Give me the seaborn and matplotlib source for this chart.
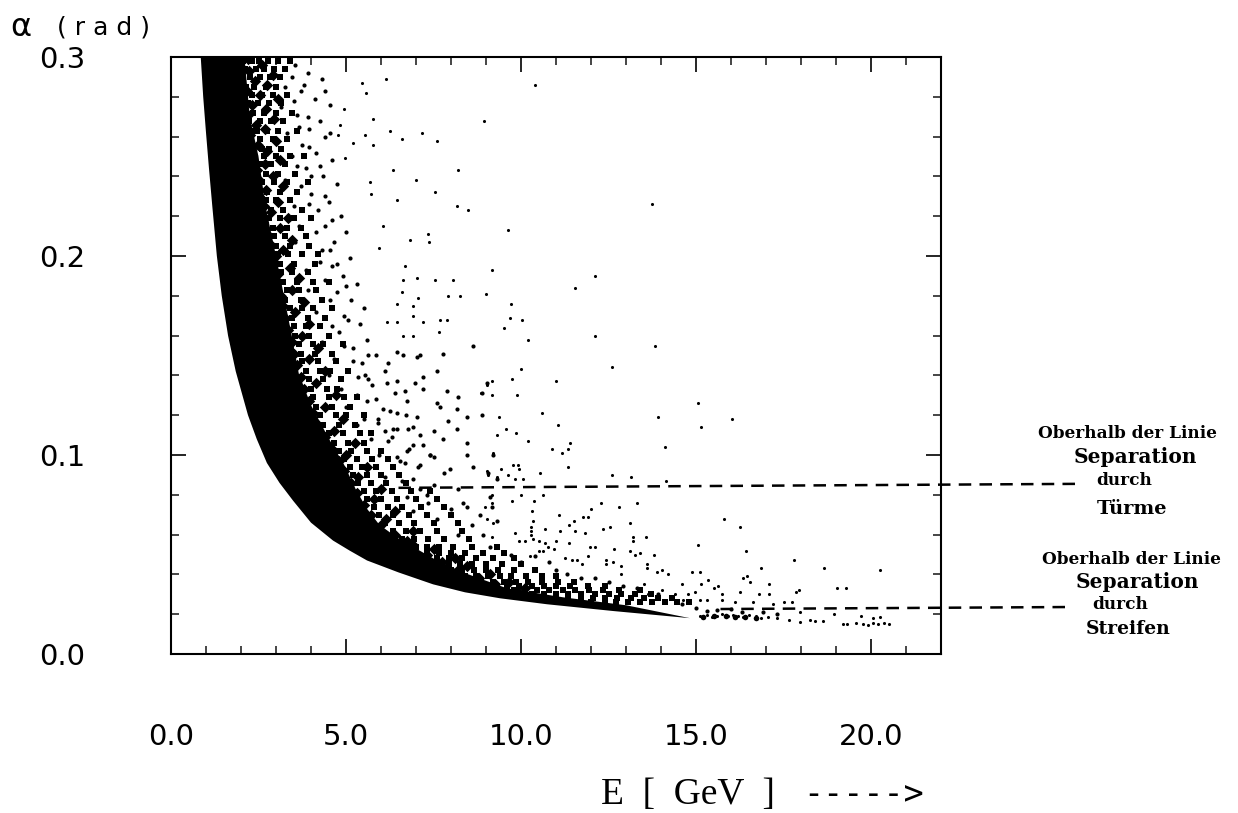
import pandas as pd
import numpy as np
import seaborn as sns
import matplotlib.pyplot as plt
from matplotlib.ticker import MultipleLocator

# edges of the solid black band (E in GeV, alpha in rad)
band_low_E = [0.85, 0.92, 1.0, 1.08, 1.18, 1.31, 1.45, 1.63, 1.85, 2.2, 2.45, 2.74, 3.1, 3.49, 4.0, 4.63, 5.1, 5.6, 6.5, 7.49, 8.4, 9.4, 10.74, 12.63, 14.83]
band_low_a = [0.3, 0.28, 0.262, 0.245, 0.225, 0.2, 0.18, 0.16, 0.142, 0.12, 0.108, 0.096, 0.086, 0.077, 0.066, 0.057, 0.052, 0.047, 0.041, 0.035, 0.031, 0.028, 0.025, 0.0216, 0.018]
band_up_E = [14.83, 13.0, 11.2, 9.6, 8.5, 7.7, 7.0, 6.5, 5.95, 5.6, 5.3, 4.95, 4.55, 4.0, 3.65, 3.45, 3.25, 3.0, 2.7, 2.5, 2.25, 2.1]
band_up_a = [0.018, 0.0245, 0.0285, 0.033, 0.04, 0.046, 0.053, 0.058, 0.065, 0.073, 0.082, 0.095, 0.107, 0.125, 0.141, 0.16, 0.178, 0.2, 0.225, 0.25, 0.27, 0.3]

# speckled zone just above the band, one row per alpha
dense_a = [.298, .294, .290, .285, .281, .277, .272, .268, .263, .259, .254, .250, .246, .241, .237, .232,
           .228, .223, .219, .214, .210, .205, .201, .196, .192, .187, .183, .178, .174, .169, .165, .160,
           .156, .151, .147, .142, .138, .133, .129, .124, .120, .115, .111, .106, .102, .098, .094, .090,
           .086, .082, .078, .074, .070, .066, .062, .058, .054, .051, .048, .045, .042, .039, .036, .034,
           .032, .030, .028, .026]
dense_E = [
    [2.05, 2.3, 2.52, 2.78, 3.05, 3.4], [2.12, 2.42, 2.66, 2.95, 3.25], [2.0, 2.25, 2.55, 2.82, 3.12],
    [2.15, 2.38, 2.7, 3.0], [2.05, 2.3, 2.6, 2.9, 3.3], [2.2, 2.48, 2.8, 3.15], [2.1, 2.35, 2.65, 3.0, 3.45],
    [2.22, 2.55, 2.85, 3.2], [2.3, 2.45, 2.75, 3.05, 3.6], [2.2, 2.55, 2.9, 3.3], [2.28, 2.6, 2.8, 3.15],
    [2.35, 2.65, 3.0, 3.4, 3.8], [2.25, 2.55, 2.85, 3.25], [2.4, 2.7, 3.05, 3.55], [2.3, 2.6, 2.95, 3.3, 3.9],
    [2.45, 2.75, 3.1, 3.6], [2.4, 2.7, 3.0, 3.4], [2.5, 2.85, 3.2, 3.75], [2.45, 2.8, 3.1, 3.5, 4.0],
    [2.55, 2.9, 3.3, 3.7], [2.6, 2.95, 3.25, 3.85], [2.65, 3.0, 3.4, 3.95], [2.7, 3.05, 3.35, 3.75, 4.2],
    [2.8, 3.1, 3.5, 4.1], [2.75, 3.15, 3.45, 3.9], [2.85, 3.2, 3.6, 4.05, 4.5], [2.9, 3.3, 3.65, 4.15],
    [2.95, 3.25, 3.7, 4.3], [3.0, 3.4, 3.75, 4.05, 4.6], [3.05, 3.45, 3.9, 4.4], [3.1, 3.5, 3.85, 4.25],
    [3.2, 3.55, 3.95, 4.5], [3.25, 3.65, 4.05, 4.35, 4.9], [3.3, 3.7, 4.1, 4.6], [3.4, 3.75, 4.2, 4.7],
    [3.45, 3.85, 4.25, 4.55, 5.05], [3.5, 3.95, 4.35, 4.85], [3.6, 4.0, 4.45, 4.75], [3.65, 4.05, 4.5, 4.95, 5.3],
    [3.75, 4.15, 4.6, 5.1], [3.85, 4.25, 4.7, 5.0, 5.5], [4.0, 4.35, 4.8, 5.25], [4.1, 4.5, 4.9, 5.4, 5.7],
    [4.3, 4.65, 5.05, 5.5], [4.4, 4.8, 5.15, 5.6, 6.0], [4.6, 4.95, 5.3, 5.75, 6.2], [4.75, 5.1, 5.45, 5.85, 6.35],
    [4.85, 5.2, 5.6, 6.0, 6.5], [4.95, 5.35, 5.7, 6.15, 6.7], [5.1, 5.5, 5.85, 6.3, 6.85, 7.4],
    [5.25, 5.6, 6.0, 6.45, 7.0, 7.6], [5.4, 5.8, 6.2, 6.6, 7.15, 7.8], [5.55, 5.95, 6.35, 6.8, 7.3, 8.0],
    [5.75, 6.1, 6.5, 6.95, 7.5, 8.2], [6.0, 6.35, 6.7, 7.1, 7.6, 8.3], [6.3, 6.6, 6.95, 7.35, 7.8, 8.5],
    [6.7, 7.0, 7.3, 7.65, 8.05, 8.6, 9.3], [6.95, 7.3, 7.65, 8.0, 8.4, 8.9, 9.5], [7.3, 7.6, 7.95, 8.3, 8.7, 9.2, 9.8],
    [7.6, 7.95, 8.25, 8.6, 9.0, 9.45, 10.0], [8.0, 8.3, 8.65, 9.0, 9.35, 9.8, 10.4],
    [8.4, 8.7, 9.05, 9.4, 9.7, 10.15, 10.6, 11.0], [8.85, 9.2, 9.5, 9.85, 10.2, 10.6, 11.05, 11.5],
    [9.3, 9.6, 9.95, 10.3, 10.65, 11.0, 11.4, 11.9, 12.4], [9.8, 10.1, 10.45, 10.8, 11.2, 11.55, 11.95, 12.35, 12.8, 13.4],
    [10.3, 10.65, 11.0, 11.35, 11.7, 12.1, 12.5, 12.85, 13.25, 13.7],
    [11.0, 11.35, 11.7, 12.05, 12.4, 12.75, 13.15, 13.5, 13.9, 14.3],
    [12.0, 12.4, 12.7, 13.05, 13.4, 13.75, 14.1, 14.45, 14.8],
]

# bigger clumps on top of the rows, they break the rows up
blobs = [(2.2, .299), (2.6, .296), (2.22, .293), (2.9, .291), (2.4, .288), (2.75, .286), (2.18, .283), (2.55, .281),
         (3.05, .279), (2.32, .276), (2.72, .274), (2.2, .271), (2.95, .269), (2.42, .266), (2.68, .264), (2.25, .261),
         (3.0, .258), (2.48, .256), (2.75, .253), (2.32, .251), (3.1, .248), (2.68, .246), (2.45, .243), (2.9, .24),
         (2.52, .238), (3.2, .235), (2.72, .233), (2.5, .23), (3.05, .227), (2.65, .225), (2.85, .222), (3.35, .219),
         (2.62, .217), (3.1, .214), (2.75, .211), (3.45, .208), (2.82, .206), (3.2, .203), (3.0, .2), (2.95, .197),
         (3.4, .194), (3.05, .191), (3.65, .189), (3.0, .186), (3.45, .183), (3.15, .18), (3.8, .177), (3.2, .175),
         (3.55, .172), (3.25, .169), (3.95, .166), (3.35, .163), (3.75, .16), (3.45, .157), (4.2, .154), (3.5, .151),
         (3.95, .148), (3.6, .145), (4.4, .142), (3.7, .139), (4.15, .136), (3.8, .133), (4.7, .13), (3.95, .127),
         (4.4, .124), (4.05, .121), (4.9, .118), (4.2, .115), (4.65, .112), (4.4, .109), (5.25, .106), (4.6, .103),
         (5.0, .1), (4.8, .097), (5.6, .094), (4.95, .092), (5.35, .089), (5.15, .086), (6.0, .083), (5.3, .081),
         (5.8, .078), (5.5, .075), (6.4, .072), (5.7, .07), (6.15, .068), (6.0, .065), (6.9, .062), (6.4, .06),
         (6.75, .057), (6.9, .055), (7.5, .053), (7.3, .05), (8.1, .048), (7.75, .046), (8.45, .044), (8.2, .042),
         (9.1, .04), (8.8, .038), (9.65, .036), (9.25, .035), (10.1, .033), (9.9, .031)]

# the thick run where the band ends
strip_blobs = [(15.2, .0188), (15.5, .019), (15.85, .019), (16.1, .0188), (16.4, .0185), (16.7, .018)]

# loose dots right of the speckled zone
mid_dots = [(3.55, .296), (3.9, .292), (4.3, .289), (3.7, .283), (4.1, .279), (4.55, .276), (3.6, .271), (4.25, .268),
            (3.95, .264), (4.4, .26), (3.75, .256), (4.15, .252), (4.6, .248), (3.85, .244), (4.35, .24), (4.75, .236),
            (4.0, .231), (4.5, .227), (4.2, .223), (4.85, .22), (4.4, .215), (5.0, .212), (4.65, .207), (4.3, .203),
            (5.1, .199), (4.6, .195), (4.9, .19), (5.3, .186), (4.75, .182), (5.15, .178), (5.5, .174), (4.95, .17),
            (5.4, .166), (4.8, .162), (5.6, .158), (5.2, .154), (5.85, .15), (5.45, .146), (6.1, .142), (5.35, .139),
            (5.75, .135), (6.4, .131), (5.6, .127), (6.05, .123), (6.7, .12), (5.9, .116), (6.35, .113), (7.1, .11),
            (6.2, .107), (6.8, .103), (7.4, .1), (6.55, .097), (7.05, .094), (7.8, .091), (6.9, .088), (7.5, .085),
            (8.2, .083), (7.3, .08), (3.45, .29), (3.25, .285), (3.8, .286), (3.15, .275), (3.5, .278), (3.9, .27),
            (4.4, .283), (3.3, .262), (3.65, .265), (4.55, .262), (3.45, .25), (3.95, .255), (4.25, .245), (3.6, .245),
            (4.0, .24), (3.25, .238), (3.7, .235), (4.4, .23), (3.5, .225), (3.95, .226), (4.6, .218), (3.65, .215),
            (4.15, .212), (3.95, .205), (4.55, .203), (3.55, .207), (4.25, .197), (3.85, .193), (4.75, .196), (4.4, .188),
            (3.9, .183), (5.0, .185), (4.55, .178), (4.15, .172), (5.05, .168), (4.6, .165), (4.3, .157), (4.95, .155),
            (4.65, .148), (5.2, .147), (4.5, .14), (5.05, .142), (5.55, .14), (4.85, .133), (5.3, .13), (5.85, .128),
            (5.0, .124), (5.5, .118), (6.1, .112), (5.3, .115), (5.7, .108), (5.95, .1), (6.35, .094), (6.1, .089),
            (6.6, .087), (7.1, .083), (6.75, .079), (7.35, .076), (6.9, .072), (7.6, .068), (8.0, .073), (8.6, .065),
            (8.9, .06), (8.2, .06), (9.1, .054), (9.7, .05), (10.0, .046), (10.4, .049), (10.8, .046), (11.0, .042),
            (11.3, .04), (11.7, .038), (12.1, .038), (12.5, .036), (12.9, .034), (13.3, .033), (13.9, .03), (14.3, .028),
            (14.6, .025), (15.0, .023), (15.3, .0215), (15.6, .022), (16.0, .0225), (16.3, .021), (16.9, .021), (17.3, .02)]

upper_dots = [(6.14, .289), (5.47, .287), (5.56, .282), (4.95, .274), (5.76, .269), (8.94, .268), (6.26, .263), (6.59, .259),
              (7.16, .262), (7.59, .258), (5.77, .256), (5.21, .257), (5.54, .261), (4.76, .261), (4.83, .266), (4.97, .249),
              (6.33, .243), (8.21, .243), (7.0, .238), (7.54, .232), (5.69, .237), (5.71, .231), (6.45, .228), (8.16, .225),
              (8.48, .223), (6.07, .215), (7.35, .211), (7.38, .207), (6.83, .208), (5.94, .204), (9.16, .193), (6.69, .195),
              (6.62, .188), (7.02, .189), (7.54, .188), (8.05, .188), (8.99, .181), (8.26, .18), (7.92, .18), (7.07, .179),
              (6.59, .182), (6.92, .175), (6.45, .176), (7.69, .168), (7.88, .168), (7.21, .167), (6.45, .167), (6.16, .167),
              (7.67, .162), (6.92, .17), (6.64, .16), (6.92, .16), (10.4, .286), (13.73, .226), (9.62, .213), (12.1, .19),
              (11.55, .184), (9.7, .176), (9.69, .169), (10.04, .168), (9.5, .164), (10.21, .158), (12.11, .16), (13.83, .155),
              (12.61, .144), (10.0, .143), (9.73, .138), (9.16, .137), (9.02, .135), (11.0, .137), (9.88, .13), (9.18, .13),
              (8.86, .131)]

center_dots = [(8.64, .155), (7.78, .151), (7.59, .142), (9.02, .136), (7.88, .132), (8.88, .131), (8.21, .129), (7.59, .126),
               (7.69, .124), (8.16, .123), (8.88, .12), (8.45, .119), (7.92, .117), (8.16, .113), (7.78, .108), (8.45, .106),
               (7.5, .112), (7.03, .119), (7.4, .1), (8.45, .1), (9.21, .1), (8.64, .094), (7.97, .093), (9.07, .091),
               (9.3, .088), (8.35, .076), (9.11, .079), (8.45, .074), (8.83, .07), (9.16, .074), (9.3, .067), (7.02, .149),
               (6.64, .15), (7.12, .15), (6.45, .152), (6.2, .146), (5.64, .15), (7.2, .139), (6.45, .137), (6.97, .136),
               (6.69, .132), (7.2, .133), (6.73, .127), (6.16, .136), (5.64, .138), (6.45, .121), (6.26, .122), (5.92, .118),
               (6.92, .114), (6.78, .113), (6.45, .113), (6.3, .109), (7.2, .105), (6.92, .105), (6.73, .102), (6.69, .096),
               (7.11, .095), (7.5, .099), (6.45, .099)]

lower_dots = [(15.05, .126), (13.92, .119), (15.14, .114), (16.04, .118), (10.61, .121), (11.05, .115), (9.38, .119), (9.56, .113),
              (9.32, .11), (9.85, .111), (10.21, .107), (11.4, .106), (10.88, .103), (11.16, .101), (11.35, .103), (14.11, .104),
              (9.21, .101), (11.33, .094), (9.78, .095), (9.9, .095), (9.93, .093), (9.42, .093), (9.04, .092), (10.54, .091),
              (9.64, .09), (9.07, .09), (9.31, .089), (9.83, .088), (10.07, .088), (12.61, .09), (13.14, .089), (14.14, .087),
              (10.64, .08), (9.16, .08), (10.0, .08), (9.73, .077), (13.3, .076), (12.29, .076), (9.16, .076), (10.36, .077),
              (12.8, .074), (12.0, .073), (8.97, .074), (10.31, .072), (11.78, .069), (11.09, .07), (11.92, .069), (13.11, .066),
              (15.81, .068), (16.26, .064), (11.52, .067), (11.37, .065), (10.33, .067), (9.21, .066), (9.02, .068), (12.53, .064),
              (12.35, .063), (11.11, .062), (11.55, .062), (10.69, .063), (11.83, .061), (9.83, .061), (13.57, .059), (13.19, .059),
              (13.19, .057), (9.93, .057), (10.12, .057), (11.0, .057), (9.16, .059), (11.38, .056), (12.12, .054), (11.97, .054),
              (15.07, .055), (12.67, .053), (10.78, .054), (10.93, .053), (10.5, .052), (10.64, .052), (16.43, .052), (13.4, .051),
              (13.11, .052), (13.81, .05), (13.26, .05), (10.26, .049), (11.26, .048), (11.92, .049), (11.59, .047), (11.45, .047),
              (11.73, .045), (12.43, .047), (12.43, .045), (12.64, .046), (12.86, .044), (13.59, .045), (17.8, .047), (18.66, .043),
              (16.85, .043), (20.26, .042), (14.88, .041), (15.12, .041), (14.02, .042), (13.88, .041), (13.59, .043), (14.19, .04),
              (12.87, .04), (16.45, .039), (16.35, .038), (16.54, .036), (17.09, .035), (15.35, .037), (14.59, .035), (15.14, .035),
              (13.5, .035), (15.64, .034), (15.5, .033), (19.04, .033), (19.28, .033), (17.94, .032), (17.86, .031), (16.26, .031),
              (15.73, .03), (14.97, .031), (14.02, .032), (14.4, .03), (14.78, .03), (16.81, .03), (17.09, .03), (13.26, .03),
              (13.64, .03), (15.31, .027), (15.12, .027), (15.73, .027), (16.12, .026), (14.64, .027), (17.5, .026), (16.64, .026),
              (17.21, .025), (17.75, .026), (10.28, .064), (10.28, .062), (10.28, .060), (10.33, .058), (10.5, .057), (10.68, .056)]

strip_dots = [(15.1, .019), (15.3, .0195), (15.45, .0185), (15.6, .019), (15.75, .02), (15.9, .019), (16.05, .0195), (16.2, .019),
              (16.35, .0185), (16.5, .0195), (16.7, .019), (16.85, .018), (17.05, .0185), (17.3, .018), (17.65, .017), (17.97, .021),
              (17.97, .016), (18.26, .017), (18.4, .0165), (18.63, .0166), (19.21, .015), (19.3, .015), (19.56, .0158), (19.78, .015),
              (19.92, .0148), (20.07, .0155), (20.21, .015), (20.36, .0155), (20.5, .015), (20.07, .018), (20.26, .0185), (19.7, .019),
              (18.93, .02)]

# dashed separation lines
line_tower_E = [6.5, 25.9]
line_tower_a = [0.0835, 0.0855]
line_strip_E = [15.7, 25.6]
line_strip_a = [0.0226, 0.0236]

x_ticks = [0, 5, 10, 15, 20]
x_tick_labels = ['0.0', '5.0', '10.0', '15.0', '20.0']
y_ticks = [0.0, 0.1, 0.2, 0.3]
y_tick_labels = ['0.0', '0.1', '0.2', '0.3']

note_labels = ['Oberhalb der Linie', 'Separation', 'durch', 'Türme',
               'Oberhalb der Linie', 'Separation', 'durch', 'Streifen']
note_x = [1127, 1135, 1124, 1132, 1131, 1137, 1120, 1128]
note_y = [433, 457, 480, 509, 559, 582, 604, 629]
note_size = [12.2, 14.5, 12.2, 14, 12.2, 14.5, 12.2, 13.5]

sns.set_style('ticks')
plt.rcParams['font.family'] = ['DejaVu Sans']

W, H = 1238, 813
fig = plt.figure(figsize=(W / 100, H / 100), dpi=100)
ax = fig.add_axes([171 / W, 1 - 654 / H, 770 / W, 597 / H])

ax.fill(band_low_E + band_up_E, band_low_a + band_up_a, color='black', linewidth=0)

# speckle rows to long form
df_dense = pd.DataFrame({'E': [e for row in dense_E for e in row],
                         'alpha': [a for a, row in zip(dense_a, dense_E) for e in row]})
df_blobs = pd.DataFrame(blobs, columns=['E', 'alpha'])
df_strip = pd.DataFrame(strip_blobs, columns=['E', 'alpha'])
df_mid = pd.DataFrame(mid_dots + center_dots, columns=['E', 'alpha'])
df_dots = pd.DataFrame(upper_dots + lower_dots + strip_dots, columns=['E', 'alpha'])

sns.scatterplot(data=df_dense, x='E', y='alpha', s=20, marker='s', color='black', linewidth=0, legend=False, ax=ax)
sns.scatterplot(data=df_blobs, x='E', y='alpha', s=34, marker='D', color='black', linewidth=0, legend=False, ax=ax)
sns.scatterplot(data=df_strip, x='E', y='alpha', s=16, color='black', linewidth=0, legend=False, ax=ax)
sns.scatterplot(data=df_mid, x='E', y='alpha', s=9, color='black', linewidth=0, legend=False, ax=ax)
sns.scatterplot(data=df_dots, x='E', y='alpha', s=5, color='black', linewidth=0, legend=False, ax=ax)

for ex, ay in [(line_tower_E, line_tower_a), (line_strip_E, line_strip_a)]:
    sns.lineplot(x=ex, y=ay, color='black', linewidth=1.8, linestyle=(0, (5, 3.3)), clip_on=False, ax=ax)

ax.set_xlim(0, 22)
ax.set_ylim(0, 0.3)
ax.set_xticks(x_ticks, x_tick_labels)
ax.set_yticks(y_ticks, y_tick_labels)
ax.xaxis.set_minor_locator(MultipleLocator(1))
ax.yaxis.set_minor_locator(MultipleLocator(0.02))
ax.tick_params(which='major', direction='in', top=True, right=True, length=11, width=1.2, labelsize=21, colors='black')
ax.tick_params(which='minor', direction='in', top=True, right=True, length=5.5, width=1.2)
ax.tick_params(axis='x', which='major', pad=50)
ax.tick_params(axis='y', which='major', pad=62)
ax.set_xlabel('')
ax.set_ylabel('')
for spine in ax.spines.values():
    spine.set_linewidth(1.5)
    spine.set_color('black')

fig.text(10 / W, 1 - 27 / H, 'α', fontsize=23, color='black', va='center', ha='left')
fig.text(57 / W, 1 - 27 / H, '( r a d )', fontsize=18, color='black', va='center', ha='left')
fig.text(601 / W, 1 - 795 / H, 'E  [  GeV  ]', fontsize=27, color='black', family='Liberation Serif', va='center', ha='left')
fig.text(803 / W, 1 - 795 / H, '----->', fontsize=24, color='black', family='DejaVu Sans Mono', va='center', ha='left')

for label, nx, ny, ns in zip(note_labels, note_x, note_y, note_size):
    fig.text(nx / W, 1 - ny / H, label, fontsize=ns, color='black', family='DejaVu Serif', fontweight='bold',
             va='center', ha='center')

plt.savefig('out.png', dpi=100)
